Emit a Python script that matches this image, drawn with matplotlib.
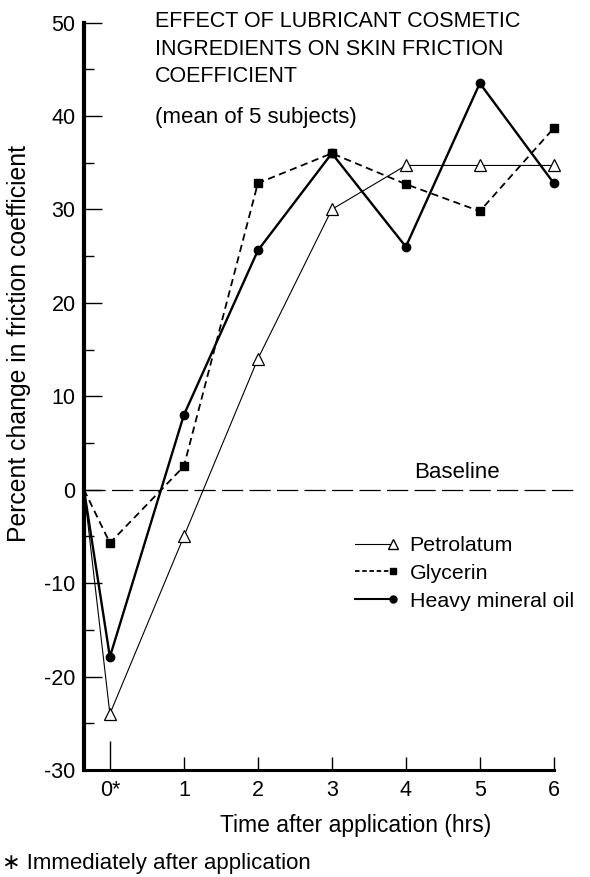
import matplotlib
matplotlib.use("Agg")
import matplotlib.pyplot as plt
from matplotlib.legend_handler import HandlerLine2D

plt.rcParams['font.family'] = ['Liberation Sans', 'DejaVu Sans']
plt.rcParams['axes.unicode_minus'] = False

# hours after application; first point is the pre-application reading on the axis
times = [-0.35, 0, 1, 2, 3, 4, 5, 6]
petrolatum = [0, -24, -5, 14, 30, 34.7, 34.7, 34.7]
glycerin = [0, -5.7, 2.5, 32.8, 36, 32.7, 29.8, 38.7]
mineral_oil = [0, -17.9, 8, 25.6, 36, 26, 43.5, 32.8]

xtick_vals = [0, 1, 2, 3, 4, 5, 6]
xtick_labels = ['0*', '1', '2', '3', '4', '5', '6']
ytick_vals = [-30, -20, -10, 0, 10, 20, 30, 40, 50]
baseline_x = [-0.35, 6.3]
baseline_y = [0, 0]


class EndMarker(HandlerLine2D):
    # legend handle with the marker only at the right end of the line
    def create_artists(self, legend, orig_handle, xdescent, ydescent,
                       width, height, fontsize, trans):
        artists = super().create_artists(legend, orig_handle, xdescent, ydescent,
                                         width, height, fontsize, trans)
        artists[0].set_markevery([len(artists[0].get_xdata()) - 1])
        return artists


fig = plt.figure(figsize=(5.9, 8.77), dpi=100)
ax = fig.add_axes([84/590, 107/877, 492/590, 747.5/877])

ax.plot(baseline_x, baseline_y, color='black', lw=0.9, linestyle=(0, (17, 5)))

p1, = ax.plot(times, petrolatum, color='black', lw=0.8, marker='^', ms=9,
              mfc='white', mec='black', mew=0.9)
p2, = ax.plot(times, glycerin, color='black', lw=1.3, linestyle=(0, (4, 2.5)),
              marker='s', ms=6, mfc='black')
p3, = ax.plot(times, mineral_oil, color='black', lw=1.7, marker='o', ms=6,
              mfc='black')
for ln in (p1, p2, p3):
    ln.set_markevery(list(range(1, len(times))))

ax.set_xlim(-0.35, 6.3)
ax.set_ylim(-30, 50)

for s in ['top', 'right']:
    ax.spines[s].set_visible(False)
ax.spines['left'].set_linewidth(3)
ax.spines['bottom'].set_linewidth(2.2)
ax.spines['bottom'].set_bounds(-0.35, 6)

ax.set_xticks(xtick_vals)
ax.set_xticklabels(xtick_labels)
ax.set_yticks(ytick_vals)
ax.set_yticks([v + 5 for v in ytick_vals[:-1]], minor=True)
ax.tick_params(axis='y', which='major', direction='in', length=13, width=1, pad=6, labelsize=15.5)
ax.tick_params(axis='y', which='minor', direction='in', length=7, width=1)
ax.tick_params(axis='x', which='major', direction='in', length=9.5, width=1, pad=7, labelsize=15.5)
ax.xaxis.get_major_ticks()[0].tick1line.set_markersize(21)

ax.set_ylabel('Percent change in friction coefficient', fontsize=17.8)
ax.yaxis.set_label_coords(-0.108, 0.57)
ax.set_xlabel('Time after application (hrs)', fontsize=16.5)
ax.xaxis.set_label_coords(0.553, -0.059)

fig.text(155/590, 1 - 11/877,
         'EFFECT OF LUBRICANT COSMETIC\nINGREDIENTS ON SKIN FRICTION\nCOEFFICIENT',
         fontsize=15.5, va='top', ha='left', linespacing=1.42)
fig.text(155/590, 1 - 117/877, '(mean of 5 subjects)', fontsize=16, va='center', ha='left')
fig.text(457/590, 1 - 472/877, 'Baseline', fontsize=16, va='center', ha='center')
fig.text(0.003, 1 - 863/877, '\u2217 Immediately after application', fontsize=16,
         va='center', ha='left')

h1 = plt.Line2D([], [], color='black', lw=0.8, marker='^', ms=7, mfc='white', mec='black')
h2 = plt.Line2D([], [], color='black', lw=1.3, linestyle=(0, (2.5, 1.5)), marker='s', ms=5, mfc='black')
h3 = plt.Line2D([], [], color='black', lw=1.5, marker='o', ms=5, mfc='black')
leg = ax.legend([h1, h2, h3], ['Petrolatum', 'Glycerin', 'Heavy mineral oil'],
                handler_map={h1: EndMarker(numpoints=2, marker_pad=0),
                             h2: EndMarker(numpoints=2, marker_pad=0),
                             h3: EndMarker(numpoints=2, marker_pad=0)},
                loc='upper left', bbox_to_anchor=(355/590, 1 - 536/877),
                bbox_transform=fig.transFigure, frameon=False, fontsize=15.4,
                handlelength=1.8, handletextpad=0.75, labelspacing=0.42,
                borderpad=0, borderaxespad=0)

fig.savefig('out.png', dpi=100)
